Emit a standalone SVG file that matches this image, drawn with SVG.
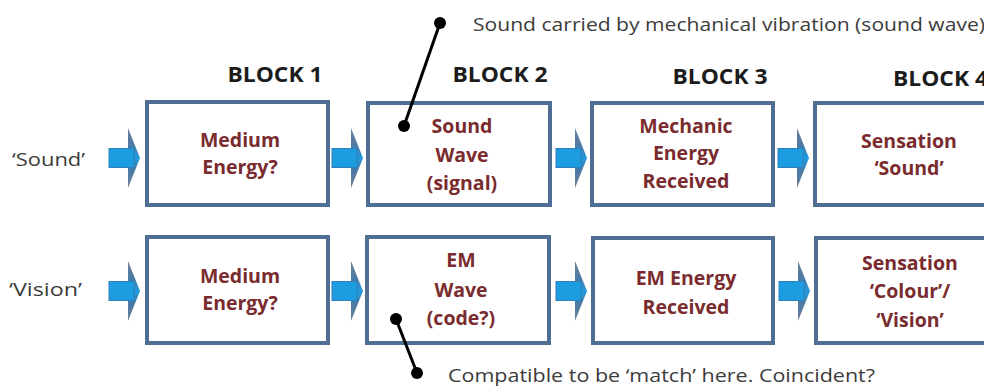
<svg xmlns="http://www.w3.org/2000/svg" width="984" height="388" viewBox="0 0 984 388">
<style>
.box{fill:#ffffff;stroke:#4e6e94;stroke-width:4}
.t{font-family:"Open Sans","Liberation Sans",sans-serif;font-weight:bold;font-size:19.5px;fill:#7a2b2e;text-anchor:middle}
.h{font-family:"Open Sans","Liberation Sans",sans-serif;font-weight:bold;font-size:20.5px;fill:#1c1c1c;text-anchor:middle}
.lbl{font-family:"Open Sans","Liberation Sans",sans-serif;font-size:18.5px;fill:#3c3c3c}
.lead{stroke:#000;stroke-width:3;fill:none}
</style>
<defs>
<linearGradient id="hg" x1="0" y1="0" x2="0" y2="1">
<stop offset="0" stop-color="#6f7f96"/>
<stop offset="0.3" stop-color="#4a7aa6"/>
<stop offset="0.5" stop-color="#1f9ae0"/>
<stop offset="0.7" stop-color="#4a7aa6"/>
<stop offset="1" stop-color="#6f7f96"/>
</linearGradient>
<g id="arrow">
<polygon points="-12,-30 0,0 -12,30" fill="url(#hg)"/>
<rect x="-31" y="-9.5" width="25" height="19" fill="#1c9de2" stroke="#2f7fb8" stroke-width="1"/>
</g>
</defs>
<rect width="984" height="388" fill="#ffffff"/>

<g id="headings">
<text class="h" x="275" y="82" textLength="95" lengthAdjust="spacingAndGlyphs">BLOCK 1</text>
<text class="h" x="500" y="82" textLength="95" lengthAdjust="spacingAndGlyphs">BLOCK 2</text>
<text class="h" x="720" y="84" textLength="95" lengthAdjust="spacingAndGlyphs">BLOCK 3</text>
<text class="h" x="893" y="86" style="text-anchor:start" textLength="95" lengthAdjust="spacingAndGlyphs">BLOCK 4</text>
</g>

<g id="labels">
<text class="lbl" x="12" y="166" textLength="73" lengthAdjust="spacingAndGlyphs">‘Sound’</text>
<text class="lbl" x="9" y="296" textLength="73" lengthAdjust="spacingAndGlyphs">‘Vision’</text>
</g>

<g id="connectors">
<use href="#arrow" x="140" y="158"/>
<use href="#arrow" x="363" y="158"/>
<use href="#arrow" x="587" y="158"/>
<use href="#arrow" x="809" y="158"/>
<use href="#arrow" x="140" y="291"/>
<use href="#arrow" x="363" y="291"/>
<use href="#arrow" x="587" y="291"/>
<use href="#arrow" x="810" y="291"/>
</g>

<g id="n-sound-1"><rect class="box" x="147" y="102" width="181" height="103"/>
<text class="t" x="240" y="147">Medium</text><text class="t" x="240" y="174">Energy?</text></g>
<g id="n-sound-2"><rect class="box" x="368" y="103" width="182" height="102"/>
<text class="t" x="462" y="133">Sound</text><text class="t" x="462" y="162">Wave</text><text class="t" x="462" y="190">(signal)</text></g>
<g id="n-sound-3"><rect class="box" x="592" y="103" width="181" height="102"/>
<text class="t" x="686" y="133">Mechanic</text><text class="t" x="686" y="160">Energy</text><text class="t" x="686" y="188">Received</text></g>
<g id="n-sound-4"><rect class="box" x="815" y="103" width="190" height="102"/>
<text class="t" x="909" y="148">Sensation</text><text class="t" x="909" y="175">‘Sound’</text></g>

<g id="n-vision-1"><rect class="box" x="147" y="237" width="181" height="106"/>
<text class="t" x="240" y="283">Medium</text><text class="t" x="240" y="310">Energy?</text></g>
<g id="n-vision-2"><rect class="box" x="367" y="237" width="182" height="106"/>
<text class="t" x="461" y="267">EM</text><text class="t" x="461" y="297">Wave</text><text class="t" x="461" y="325">(code?)</text></g>
<g id="n-vision-3"><rect class="box" x="593" y="238" width="180" height="105"/>
<text class="t" x="686" y="285">EM Energy</text><text class="t" x="686" y="314">Received</text></g>
<g id="n-vision-4"><rect class="box" x="816" y="238" width="190" height="105"/>
<text class="t" x="910" y="270">Sensation</text><text class="t" x="910" y="298">‘Colour’/</text><text class="t" x="910" y="327">‘Vision’</text></g>

<g id="annotations">
<line class="lead" x1="440" y1="23" x2="404" y2="126"/>
<circle cx="440" cy="23" r="6" fill="#000"/>
<circle cx="404" cy="126" r="6" fill="#000"/>
<text class="lbl" x="473" y="31" textLength="512" lengthAdjust="spacingAndGlyphs">Sound carried by mechanical vibration (sound wave)</text>
<line class="lead" x1="396" y1="319" x2="417" y2="373"/>
<circle cx="396" cy="319" r="6" fill="#000"/>
<circle cx="417" cy="373" r="6" fill="#000"/>
<text class="lbl" x="448" y="382" textLength="427" lengthAdjust="spacingAndGlyphs">Compatible to be ‘match’ here. Coincident?</text>
</g>
</svg>
